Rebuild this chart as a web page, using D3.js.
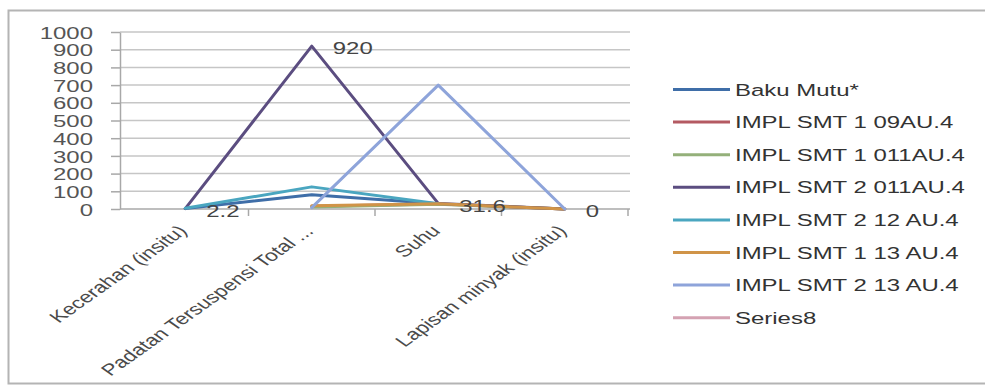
<!DOCTYPE html>
<html>
<head>
<meta charset="utf-8">
<script src="https://cdn.jsdelivr.net/npm/d3@7/dist/d3.min.js"></script>
<style>
  html, body { margin: 0; padding: 0; background: #ffffff; }
  svg { display: block; }
  text { font-family: "Liberation Sans", Arial, sans-serif; }
</style>
</head>
<body>
<svg id="chart" width="985" height="392"></svg>
<script>
// Water quality parameters (x categories)
const categories = ["Kecerahan (insitu)", "Padatan Tersuspensi Total ...", "Suhu", "Lapisan minyak (insitu)"];

// Series names and values per category (null = no value)
const seriesNames = ["Baku Mutu*", "IMPL SMT 1 09AU.4", "IMPL SMT 1 011AU.4", "IMPL SMT 2 011AU.4",
                     "IMPL SMT 2 12 AU.4", "IMPL SMT 1 13 AU.4", "IMPL SMT 2 13 AU.4", "Series8"];
const bakuMutu   = [3, 80, 30, null];
const impl1_09   = [null, 15, 28, 0];
const impl1_011  = [null, 12, 27, 0];
const impl2_011  = [2.2, 920, 31.6, 0];
const impl2_12   = [4, 125, 30, null];
const impl1_13   = [null, 18, 29, 0];
const impl2_13   = [null, 8, 700, 0];
const series8    = [null, null, null, null];
const seriesColors = ["#3f6ea8", "#b45a62", "#94b07a", "#5b4d80", "#4aa6c0", "#d09448", "#8ea4da", "#d4a2b2"];

// Data labels shown for this series
const labelSeries = impl2_011;

// Y axis ticks
const yTicks = [0, 100, 200, 300, 400, 500, 600, 700, 800, 900, 1000];

const allSeries = [bakuMutu, impl1_09, impl1_011, impl2_011, impl2_12, impl1_13, impl2_13, series8];

const SX = 1.41;          // horizontal text stretch
const FONT = 17;

const svg = d3.select("#chart");

// outer chart frame
svg.append("rect")
  .attr("x", 8.5).attr("y", 10.5).attr("width", 990).attr("height", 373)
  .attr("fill", "#ffffff").attr("stroke", "#b4b4b4").attr("stroke-width", 2);

const plot = { left: 120, right: 628, top: 32, bottom: 209 };

const y = d3.scaleLinear().domain([0, 1000]).range([plot.bottom, plot.top]);
const xBand = d3.scaleBand().domain(categories).range([122, plot.right]).padding(0);
const xc = c => xBand(c) + xBand.bandwidth() / 2;

// horizontal gridlines
svg.append("g")
  .selectAll("line")
  .data(yTicks.filter(d => d > 0))
  .join("line")
  .attr("x1", plot.left).attr("x2", plot.right + 2)
  .attr("y1", d => y(d)).attr("y2", d => y(d))
  .attr("stroke", "#c6c6c6").attr("stroke-width", 1.5);

// y axis
const yAxis = svg.append("g")
  .attr("transform", `translate(${plot.left},0)`)
  .call(d3.axisLeft(y).tickValues(yTicks).tickSize(9).tickSizeOuter(0).tickFormat(d3.format("d")));
yAxis.select(".domain").attr("stroke", "#a8a8a8").attr("stroke-width", 1.5);
yAxis.selectAll(".tick line").attr("stroke", "#a8a8a8").attr("stroke-width", 1.5);
yAxis.selectAll(".tick text")
  .attr("x", null).attr("dy", null)
  .attr("dominant-baseline", "central")
  .attr("transform", `translate(-27,0) scale(${SX},1)`)
  .attr("fill", "#555555")
  .style("font-size", FONT + "px")
  .style("font-family", "Liberation Sans, Arial, sans-serif");

// x axis line and category boundary ticks
const xAxis = svg.append("g");
xAxis.append("line")
  .attr("x1", plot.left).attr("x2", plot.right + 2)
  .attr("y1", y(0)).attr("y2", y(0))
  .attr("stroke", "#a8a8a8").attr("stroke-width", 1.5);
xAxis.selectAll("line.tick")
  .data(categories)
  .join("line").attr("class", "tick")
  .attr("x1", d => xBand(d) + xBand.bandwidth()).attr("x2", d => xBand(d) + xBand.bandwidth())
  .attr("y1", y(0)).attr("y2", y(0) + 7)
  .attr("stroke", "#a8a8a8").attr("stroke-width", 1.5);

// rotated category labels
xAxis.selectAll("text")
  .data(categories)
  .join("text")
  .attr("transform", d => `translate(${xc(d) + 3},232) scale(${SX},1) rotate(-45)`)
  .attr("text-anchor", "end")
  .attr("fill", "#4a4a4a")
  .style("font-size", "16px")
  .text(d => d);

// series lines
const line = d3.line()
  .defined(d => d.v !== null)
  .x(d => xc(d.c))
  .y(d => y(d.v));

svg.append("g")
  .selectAll("path")
  .data(allSeries)
  .join("path")
  .attr("d", s => line(s.map((v, i) => ({ c: categories[i], v }))))
  .attr("fill", "none")
  .attr("stroke", (s, i) => seriesColors[i])
  .attr("stroke-width", 3)
  .attr("stroke-linejoin", "round")
  .attr("stroke-linecap", "round");

// data labels
svg.append("g")
  .selectAll("text")
  .data(labelSeries.map((v, i) => ({ c: categories[i], v })).filter(d => d.v !== null))
  .join("text")
  .attr("transform", d => `translate(${xc(d.c) + 21},${y(d.v) + 2}) scale(${SX},1)`)
  .attr("dominant-baseline", "central")
  .attr("fill", "#444444")
  .style("font-size", FONT + "px")
  .text(d => d3.format("~g")(d.v));

// legend
const legend = svg.append("g");
const rowY = i => 89.5 + i * 32.6;
const items = legend.selectAll("g")
  .data(seriesNames)
  .join("g")
  .attr("transform", (d, i) => `translate(0,${rowY(i)})`);
items.append("line")
  .attr("x1", 673).attr("x2", 730)
  .attr("y1", 0).attr("y2", 0)
  .attr("stroke", (d, i) => seriesColors[i])
  .attr("stroke-width", 3);
items.append("text")
  .attr("transform", `translate(735,0) scale(${SX},1)`)
  .attr("dominant-baseline", "central")
  .attr("fill", "#333333")
  .style("font-size", FONT + "px")
  .text(d => d);
</script>
</body>
</html>
